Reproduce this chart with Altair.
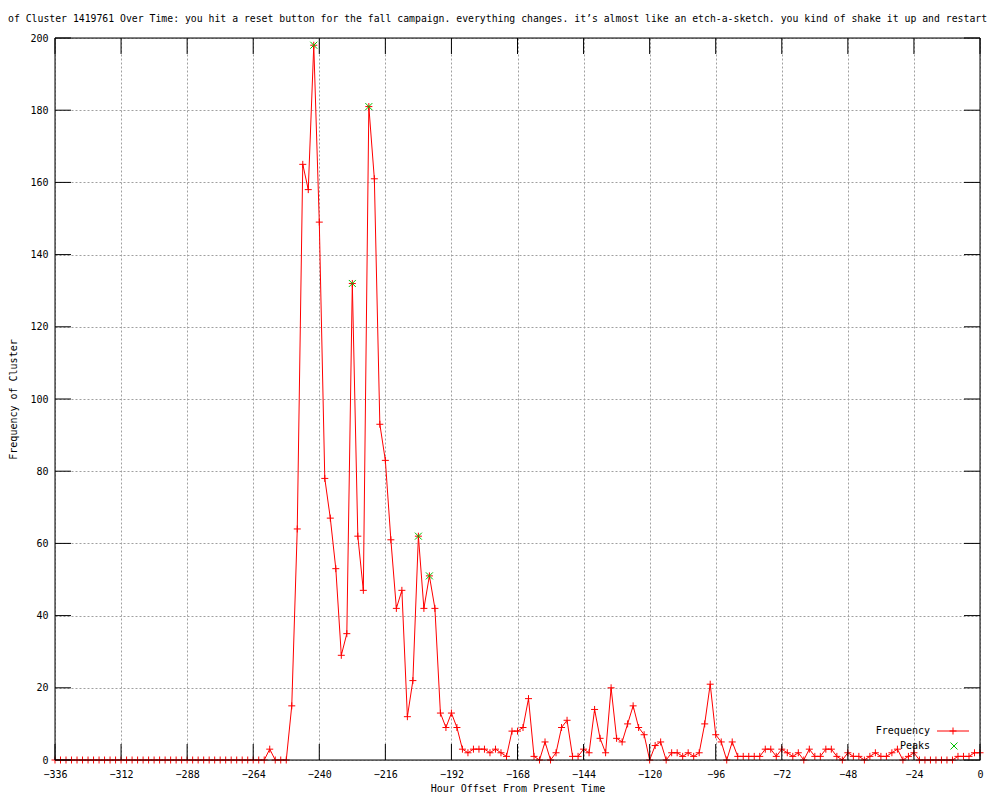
import altair as alt
import pandas as pd

# ---------------- data ----------------
hours = list(range(-336, 1, 2))

frequency = [
    0, 0, 0, 0, 0, 0, 0, 0, 0, 0,          # -336 .. -318
    0, 0, 0, 0, 0, 0, 0, 0, 0, 0,          # -316 .. -298
    0, 0, 0, 0, 0, 0, 0, 0, 0, 0,          # -296 .. -278
    0, 0, 0, 0, 0, 0, 0, 0, 0,             # -276 .. -260
    3, 0, 0, 0, 15,                        # -258 .. -250
    64, 165, 158, 198, 149, 78, 67, 53, 29, 35,    # -248 .. -230
    132, 62, 47, 181, 161, 93, 83, 61, 42, 47,     # -228 .. -210
    12, 22, 62, 42, 51, 42, 13, 9, 13, 9,          # -208 .. -190
    3, 2, 3, 3, 3, 2, 3, 2, 1, 8,                  # -188 .. -170
    8, 9, 17, 1, 0, 5, 0, 2, 9, 11,                # -168 .. -150
    1, 1, 3, 2, 14, 6, 2, 20, 6, 5,                # -148 .. -130
    10, 15, 9, 7, 0, 4, 5, 0, 2, 2,                # -128 .. -110
    1, 2, 1, 2, 10, 21, 7, 5, 0, 5,                # -108 .. -90
    1, 1, 1, 1, 1, 3, 3, 1, 3, 2,                  # -88 .. -70
    1, 2, 0, 3, 1, 1, 3, 3, 1, 0,                  # -68 .. -50
    2, 1, 1, 0, 1, 2, 1, 1, 2, 3,                  # -48 .. -30
    0, 1, 2, 0, 0, 0, 0, 0, 0, 0,                  # -28 .. -10
    1, 1, 1, 2, 2,                                 # -8 .. 0
]

peak_hours = [-242, -228, -222, -204, -200]
peak_values = [198, 132, 181, 62, 51]

x_ticks = [-336, -312, -288, -264, -240, -216, -192, -168, -144, -120, -96, -72, -48, -24, 0]
y_ticks = [0, 20, 40, 60, 80, 100, 120, 140, 160, 180, 200]

series_names = ["Frequency", "Peaks"]

title_text = ("of Cluster 1419761 Over Time: you hit a reset button for the fall campaign. "
              "everything changes. it\u2019s almost like an etch-a-sketch. "
              "you kind of shake it up and restart")
x_title = "Hour Offset From Present Time"
y_title = "Frequency of Cluster"

# ---------------- styling ----------------
FONT = "DejaVu Sans Mono"
W, H = 925, 722
TICK = 16
RED = "#ff0000"
GREEN = "#00c000"
GRID = "#a0a0a0"
PLUS = "M-1,0L1,0M0,-1L0,1"
CROSS = "M-1,-1L1,1M-1,1L1,-1"

df = pd.DataFrame({"hour": hours, "freq": frequency})
peaks_df = pd.DataFrame({"hour": peak_hours, "freq": peak_values})
xt_df = pd.DataFrame({"hour": x_ticks})
yt_df = pd.DataFrame({"freq": y_ticks})
one = alt.Data(values=[{}])

x_scale = alt.Scale(domain=[-336, 0], nice=False, zero=False)
y_scale = alt.Scale(domain=[0, 200], nice=False)

x_axis = alt.Axis(
    values=x_ticks, title=x_title, grid=True, gridColor=GRID, gridDash=[2, 2], gridWidth=1,
    ticks=False, tickSize=0, domain=False, labelFlush=False, labelOverlap=False,
    labelPadding=9, labelFont=FONT, labelFontSize=10, labelColor="black",
    titleFont=FONT, titleFontSize=10, titleFontWeight="normal", titleColor="black",
    titleX=W / 2, titleY=28, titleAlign="center", titleBaseline="middle",
)
y_axis = alt.Axis(
    values=y_ticks, title=y_title, grid=True, gridColor=GRID, gridDash=[2, 2], gridWidth=1,
    ticks=False, tickSize=0, domain=False, labelFlush=False, labelOverlap=False,
    labelPadding=7, labelFont=FONT, labelFontSize=10, labelColor="black",
    titleFont=FONT, titleFontSize=10, titleFontWeight="normal", titleColor="black",
    titleX=-42, titleY=H / 2, titleAlign="center", titleBaseline="middle",
)

X = alt.X("hour:Q", scale=x_scale, axis=x_axis)
Y = alt.Y("freq:Q", scale=y_scale, axis=y_axis)

line = alt.Chart(df).mark_line(color=RED, strokeWidth=1).encode(x=X, y=Y)
points = alt.Chart(df).mark_point(shape=PLUS, size=49, color=RED, filled=False,
                                  strokeWidth=1, opacity=1).encode(x=X, y=Y)
peaks = alt.Chart(peaks_df).mark_point(shape=CROSS, size=49, color=GREEN, filled=False,
                                       strokeWidth=1, opacity=1).encode(x=X, y=Y)

xt_bottom = alt.Chart(xt_df).mark_rule(color="black", strokeWidth=1).encode(
    x=X, y=alt.value(H), y2=alt.value(H - TICK))
xt_top = alt.Chart(xt_df).mark_rule(color="black", strokeWidth=1).encode(
    x=X, y=alt.value(0), y2=alt.value(TICK))
yt_left = alt.Chart(yt_df).mark_rule(color="black", strokeWidth=1).encode(
    y=Y, x=alt.value(0), x2=alt.value(TICK))
yt_right = alt.Chart(yt_df).mark_rule(color="black", strokeWidth=1).encode(
    y=Y, x=alt.value(W), x2=alt.value(W - TICK))

border = alt.Chart(one).mark_rect(filled=False, color="black", strokeWidth=1).encode(
    x=alt.value(0), x2=alt.value(W), y=alt.value(0), y2=alt.value(H))

# legend (gnuplot style: label left, sample right)
leg_txt1 = alt.Chart(one).mark_text(text=series_names[0], align="right", baseline="middle",
                                    font=FONT, fontSize=10, color="black").encode(
    x=alt.value(875), y=alt.value(693))
leg_line = alt.Chart(one).mark_rule(color=RED, strokeWidth=1).encode(
    x=alt.value(882), x2=alt.value(914), y=alt.value(693))
leg_plus = alt.Chart(one).mark_point(shape=PLUS, size=49, color=RED, filled=False,
                                     strokeWidth=1, opacity=1).encode(
    x=alt.value(898), y=alt.value(693))
leg_txt2 = alt.Chart(one).mark_text(text=series_names[1], align="right", baseline="middle",
                                    font=FONT, fontSize=10, color="black").encode(
    x=alt.value(875), y=alt.value(708))
leg_cross = alt.Chart(one).mark_point(shape=CROSS, size=49, color=GREEN, filled=False,
                                      strokeWidth=1, opacity=1).encode(
    x=alt.value(899), y=alt.value(708))

chart = alt.layer(
    line, points, peaks,
    xt_bottom, xt_top, yt_left, yt_right, border,
    leg_txt1, leg_line, leg_plus, leg_txt2, leg_cross,
).properties(
    width=W,
    height=H,
    padding={"left": 47, "top": 30, "right": 12, "bottom": 32},
    autosize=alt.AutoSizeParams(type="none"),
    title=alt.TitleParams(text=title_text, anchor="start", frame="group", dx=-47, offset=9,
                          font=FONT, fontSize=9.8, fontWeight="normal", color="black"),
).configure_view(strokeWidth=0).configure(background="white")

chart.save("out.html", embed_options={"renderer": "svg", "actions": False})
